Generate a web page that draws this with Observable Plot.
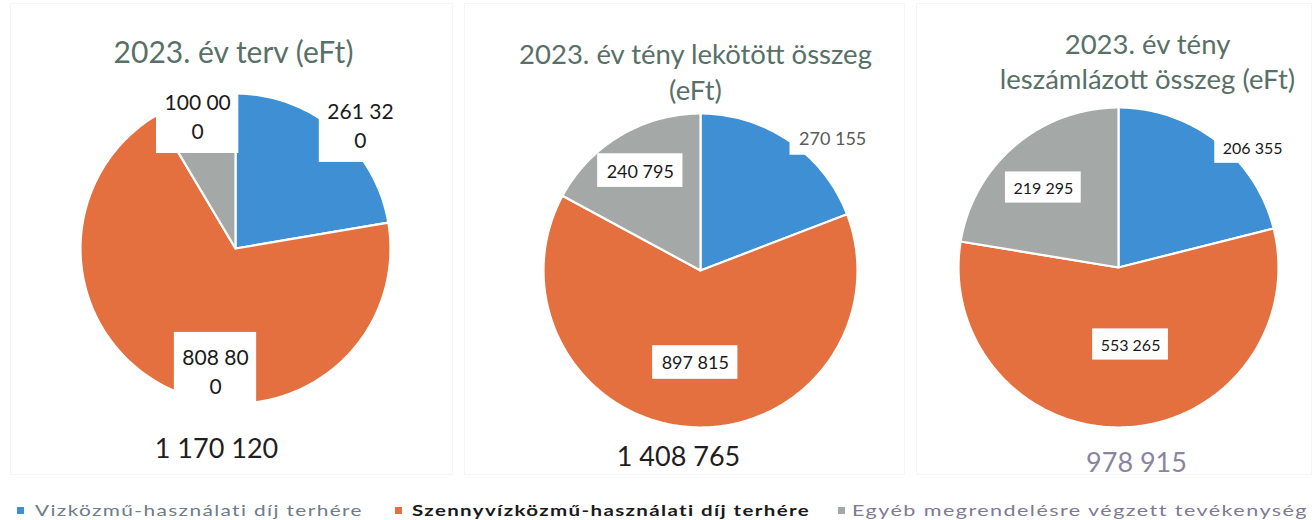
<!DOCTYPE html>
<html>
<head>
<meta charset="utf-8">
<script src="https://cdn.jsdelivr.net/npm/d3@7"></script>
<script src="https://cdn.jsdelivr.net/npm/@observablehq/plot@0.6"></script>
<style>
html, body { margin: 0; padding: 0; background: #ffffff; }
#root { position: relative; width: 1314px; height: 520px; overflow: hidden; font-family: Lato, "Noto Sans", sans-serif; }
.panel { position: absolute; top: 0; height: 480px; }
.panel svg { display: block; }
.frame { position: absolute; border: 1px solid #f4f5f8; box-sizing: border-box; }
#legend { position: absolute; left: 0; top: 500px; width: 1314px; height: 20px; }
.item { position: absolute; top: 0; white-space: nowrap; font-size: 15px; line-height: 20px; letter-spacing: 1px; transform-origin: 0 50%; }
.sw { position: absolute; width: 7px; height: 7px; top: 7px; }
</style>
</head>
<body>
<div id="root"></div>
<script>
// ---------- data ----------
const categories = [
  "Vizközmű-használati díj terhére",
  "Szennyvízközmű-használati díj terhére",
  "Egyéb megrendelésre végzett tevékenység"
];
const colors = ["#3e8fd4", "#e3703e", "#a4a9a7"];
const titlePlan = ["2023. év terv (eFt)"];
const titleCommitted = ["2023. év tény lekötött összeg", "(eFt)"];
const titleInvoiced = ["2023. év tény", "leszámlázott összeg (eFt)"];
const planValues = [261320, 808800, 100000];
const committedValues = [270155, 897815, 240795];
const invoicedValues = [206355, 553265, 219295];

// ---------- layout (pixels / styling only) ----------
const layout = [
  {left: 0, width: 453, cx: 235, cy: 248, r: 155,
   titleDx: -2, titleTop: 37, titleSize: 30, titleLine: 1.18, totalDx: -19, totalTop: 438, totalColor: "#1f1f1f",
   labelSize: 21, labelLine: 1.38, labelK: [1.136, 0.797, 0.892], labelTurn: [5, -15.5, -0.5],
   wrap: 6, labelColor: ["#1a1a1a", "#1a1a1a", "#1a1a1a"], padX: 8, padY: 9},
  {left: 453, width: 459, cx: 247, cy: 270, r: 157,
   titleDx: -5, titleTop: 38, titleSize: 27.5, titleLine: 1.31, totalDx: -22, totalTop: 446, totalColor: "#1f1f1f",
   labelSize: 18, labelLine: 1.2, labelK: [1.19, 0.587, 0.743], labelTurn: [10.5, -0.5, -0.3],
   wrap: 0, labelColor: ["#5a5a5a", "#1a1a1a", "#1a1a1a"], padX: 9, padY: 6},
  {left: 912, width: 402, cx: 206, cy: 267, r: 160,
   titleDx: 29, titleTop: 29, titleSize: 27.5, titleLine: 1.27, totalDx: 18, totalTop: 452, totalColor: "#8985a0",
   labelSize: 16, labelLine: 1.2, labelK: [1.124, 0.487, 0.686], labelTurn: [10.3, -6.5, -2.9],
   wrap: 0, labelColor: ["#1a1a1a", "#1a1a1a", "#1a1a1a"], padX: 8, padY: 6}
];
const panelData = [
  {title: titlePlan, values: planValues},
  {title: titleCommitted, values: committedValues},
  {title: titleInvoiced, values: invoicedValues}
];

const fmt = d3.formatLocale({decimal: ",", thousands: " ", grouping: [3], currency: ["", ""]}).format(",d");
const H = 480;
const root = document.getElementById("root");
const ctx = document.createElement("canvas").getContext("2d");

panelData.forEach((pd, p) => {
  const L = layout[p];
  const arcs = d3.pie().sort(null)(pd.values);
  const rows = [];
  arcs.forEach((a, i) => {
    const n = Math.max(2, Math.ceil((a.endAngle - a.startAngle) / (Math.PI / 180)));
    rows.push({k: categories[i], x: 0, y: 0});
    for (let j = 0; j <= n; j++) {
      const t = a.startAngle + (a.endAngle - a.startAngle) * j / n;
      rows.push({k: categories[i], x: Math.sin(t), y: Math.cos(t)});
    }
  });

  const marks = [
    Plot.line(rows, {x: "x", y: "y", z: "k", fill: "k", stroke: "#ffffff", strokeWidth: 2.2, curve: "linear-closed"})
  ];

  arcs.forEach((a, i) => {
    const mid = (a.startAngle + a.endAngle) / 2 + L.labelTurn[i] * Math.PI / 180;
    let text = fmt(pd.values[i]);
    if (L.wrap) text = text.slice(0, L.wrap) + "\n" + text.slice(L.wrap);
    const lines = text.split("\n");
    ctx.font = `${L.labelSize}px Lato`;
    const tw = d3.max(lines, s => ctx.measureText(s).width);
    const bw = tw + 2 * L.padX;
    const bh = lines.length * L.labelSize * L.labelLine + 2 * L.padY;
    const lab = {x: L.labelK[i] * Math.sin(mid), y: L.labelK[i] * Math.cos(mid), text};
    marks.push(Plot.rect([lab], {x1: "x", x2: "x", y1: "y", y2: "y", fill: "#ffffff",
      insetLeft: -bw / 2, insetRight: -bw / 2, insetTop: -bh / 2, insetBottom: -bh / 2}));
    marks.push(Plot.text([lab], {x: "x", y: "y", text: "text", fontSize: L.labelSize,
      lineHeight: L.labelLine, fill: L.labelColor[i], textAnchor: "middle", lineAnchor: "middle"}));
  });

  marks.push(Plot.text([pd.title.join("\n")], {text: d => d, frameAnchor: "top-left", dx: L.cx + L.titleDx, dy: L.titleTop,
    lineAnchor: "top", textAnchor: "middle", fontSize: L.titleSize, lineHeight: L.titleLine, fill: "#587068"}));
  marks.push(Plot.text([fmt(d3.sum(pd.values))], {text: d => d, frameAnchor: "top-left", dx: L.cx + L.totalDx, dy: L.totalTop,
    lineAnchor: "top", textAnchor: "middle", fontSize: 27, fill: L.totalColor}));

  const chart = Plot.plot({
    width: L.width, height: H,
    margin: 0, marginTop: 0, marginRight: 0, marginBottom: 0, marginLeft: 0,
    x: {domain: [-L.cx / L.r, (L.width - L.cx) / L.r], axis: null},
    y: {domain: [-(H - L.cy) / L.r, L.cy / L.r], axis: null},
    color: {domain: categories, range: colors},
    style: {fontFamily: "Lato, 'Noto Sans', sans-serif", background: "transparent", overflow: "visible"},
    marks
  });
  const div = document.createElement("div");
  div.className = "panel";
  div.style.left = L.left + "px";
  div.style.width = L.width + "px";
  div.appendChild(chart);
  root.appendChild(div);
});

// faint panel frames
[[10, 3, 443, 472], [464, 3, 441, 472], [916, 3, 396, 472]].forEach(([l, t, w, h]) => {
  const f = document.createElement("div");
  f.className = "frame";
  Object.assign(f.style, {left: l + "px", top: t + "px", width: w + "px", height: h + "px"});
  root.insertBefore(f, root.firstChild);
});

// legend
const legendSpec = [
  {sq: 17, tx: 35, tw: 328, color: "#6e7c89", weight: 400},
  {sq: 395, tx: 412, tw: 398, color: "#1a1a1a", weight: 700},
  {sq: 838, tx: 852, tw: 456, color: "#7e7a93", weight: 400}
];
const legend = document.createElement("div");
legend.id = "legend";
root.appendChild(legend);
categories.forEach((c, i) => {
  const s = legendSpec[i];
  const sw = document.createElement("div");
  sw.className = "sw";
  sw.style.left = s.sq + "px";
  sw.style.background = colors[i];
  legend.appendChild(sw);
  const t = document.createElement("div");
  t.className = "item";
  t.textContent = c;
  t.style.left = s.tx + "px";
  t.style.color = s.color;
  t.style.fontWeight = s.weight;
  legend.appendChild(t);
  const w = t.getBoundingClientRect().width;
  t.style.transform = `scaleX(${s.tw / w})`;
});
</script>
</body>
</html>
